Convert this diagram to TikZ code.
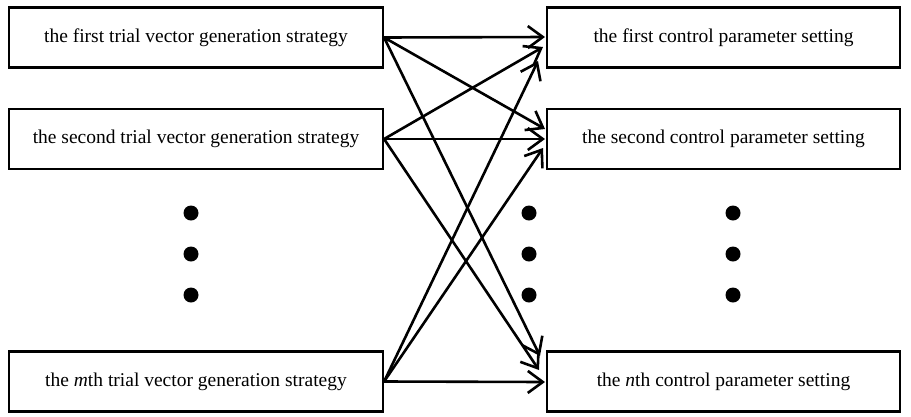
\documentclass[tikz,border=0pt]{standalone}
\usepackage{fontspec}
\setmainfont{Liberation Serif}
\usetikzlibrary{arrows.meta}
\begin{document}
\begin{tikzpicture}[x=1pt,y=-1pt,
  box/.style={draw, line width=2.2pt, minimum height=60pt, inner sep=0pt, font=\fontsize{19.5}{22}\selectfont},
  lbox/.style={box, minimum width=374pt},
  rbox/.style={box, minimum width=353pt},
  link/.style={line width=2.6pt, -{Straight Barb[length=15pt, width=22pt, line width=2.6pt]}},
  dot/.style={circle, fill=black, inner sep=0pt, minimum size=15pt}]
\useasboundingbox (0,0) rectangle (911,416);
% strategies on the left
\node[lbox] (s1) at (196,37.5) {the first trial vector generation strategy};
\node[lbox] (s2) at (196,139) {the second trial vector generation strategy};
\node[lbox] (sm) at (196,381.5) {the \textit{m}th trial vector generation strategy};
% parameter settings on the right
\node[rbox] (p1) at (723.5,37.5) {the first control parameter setting};
\node[rbox] (p2) at (723.5,139) {the second control parameter setting};
\node[rbox] (pn) at (723.5,381.5) {the \textit{n}th control parameter setting};
% ellipses
\foreach \x/\c in {191/l,529/c,733/r}{
  \node[dot] (\c1) at (\x,213) {};
  \node[dot] (\c2) at (\x,254) {};
  \node[dot] (\c3) at (\x,295) {};
}
% end points of the links
\coordinate (a11) at (545,37);
\coordinate (a21) at (543,47);
\coordinate (am1) at (538,61);
\coordinate (a12) at (545,129);
\coordinate (a22) at (545,139);
\coordinate (am2) at (543,148);
\coordinate (a1n) at (540,356);
\coordinate (a2n) at (539,370);
\coordinate (amn) at (545,382);
% links
\draw[link] (s1.east) -- (a11);
\draw[link] (s1.east) -- (a12);
\draw[link] (s1.east) -- (a1n);
\draw[link] (s2.east) -- (a21);
\draw[link] (s2.east) -- (a22);
\draw[link] (s2.east) -- (a2n);
\draw[link] (sm.east) -- (am1);
\draw[link] (sm.east) -- (am2);
\draw[link] (sm.east) -- (amn);
\end{tikzpicture}
\end{document}
